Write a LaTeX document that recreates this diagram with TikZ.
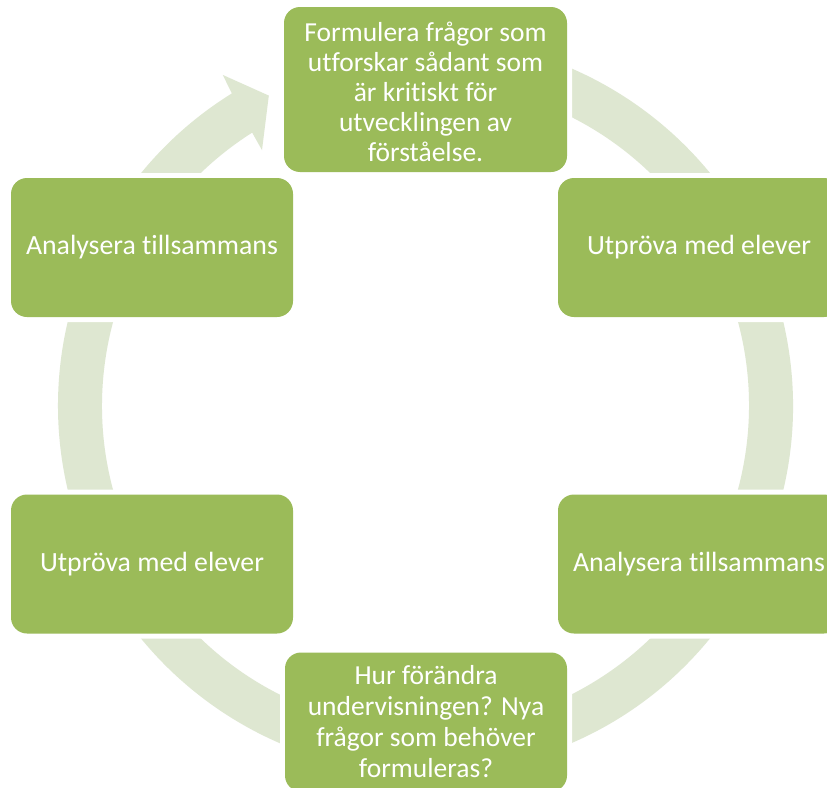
\documentclass[tikz,border=0pt]{standalone}
\usepackage{fontspec}
\setmainfont{Carlito}[Ligatures={NoCommon}]
\definecolor{boxgreen}{RGB}{155,187,89}
\definecolor{ringgreen}{RGB}{222,231,209}
\begin{document}
\begin{tikzpicture}[x=1pt,y=1pt,
  box/.style={rectangle, rounded corners=16pt, fill=boxgreen, text=white,
    align=center, inner sep=0pt, font=\fontsize{27.8}{30}\selectfont,
    preaction={draw=white, line width=10pt}},
  sidebox/.style={box, minimum width=282pt, minimum height=139pt},
  ring/.style={fill=ringgreen}
]
\useasboundingbox (0,0) rectangle (827,-787);
\clip (0,0) rectangle (827,-787);
\fill[white] (0,0) rectangle (827,-787);
\coordinate (C) at (425.5,-405.75);
% circular arrow
\fill[ring] ([shift={(C)}]460:367.5) arc[start angle=460, end angle=121.8, radius=367.5]
  -- ([shift={(C)}]121.5:388) -- ([shift={(C)}]116.8:347.5) -- ([shift={(C)}]122.6:303.5)
  -- ([shift={(C)}]122.4:323.5) arc[start angle=122.4, end angle=460, radius=323.5] -- cycle;
% boxes
\node[box, minimum width=283pt, minimum height=165pt] (top) at (425.5,-89.5) {};
\node[align=center, text=white, font=\fontsize{27.5}{30}\selectfont] (toptext) at (425.5,-92)
  {Formulera frågor som\\utforskar sådant som\\är kritiskt för\\utvecklingen av\\förståelse.};
\node[sidebox] (rt) at (699,-247.5) {Utpröva med elever};
\node[sidebox] (rb) at (699,-564) {Analysera tillsammans};
\node[sidebox] (bot) at (426,-722) {};
\node[align=center, text=white, font=\fontsize{27.5}{31}\selectfont] (bottext) at (426,-722)
  {Hur förändra\\undervisningen? Nya\\frågor som behöver\\formuleras?};
\node[sidebox] (lb) at (152,-564) {Utpröva med elever};
\node[sidebox] (lt) at (152,-247.5) {Analysera tillsammans};
\end{tikzpicture}
\end{document}
